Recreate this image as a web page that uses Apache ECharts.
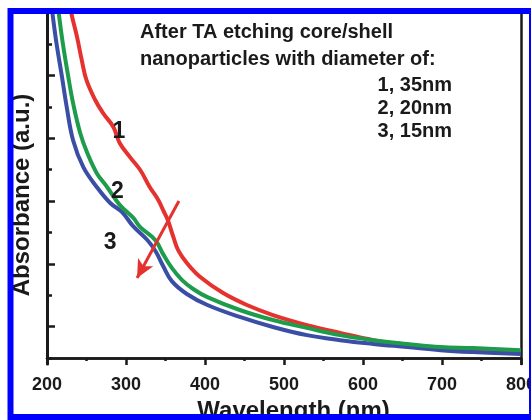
<!DOCTYPE html>
<html>
<head>
<meta charset="utf-8">
<script src="https://cdn.jsdelivr.net/npm/echarts@6/dist/echarts.min.js"></script>
<style>
html,body{margin:0;padding:0;background:#fff;}
#c{width:531px;height:420px;}
</style>
</head>
<body>
<div id="c"></div>
<script>
// Tick labels
var xTicks = [200, 300, 400, 500, 600, 700, 800];
var yMajorTicks = [1, 3, 5, 7, 9];
var yMinorTicks = [0, 2, 4, 6, 8, 10];

// Curve 1 (35 nm, red)
var redWl  = [223,231,238,244,250,261,271,284,292,305,318,330,341,347,353,360,366,377,394,423,453,486,529,571,613,656,698,739,800];
var redAbs = [12.0,10.96,10.23,9.49,8.85,8.22,7.80,7.36,6.85,6.40,5.99,5.45,5.03,4.71,4.39,3.85,3.44,3.03,2.58,2.07,1.69,1.37,1.05,0.80,0.57,0.41,0.32,0.22,0.16];

// Curve 2 (20 nm, green)
var greenWl  = [210,215,220,227,233,242,251,263,276,292,309,318,337,347,358,371,385,403,444,486,529,571,613,656,698,739,800];
var greenAbs = [11.95,10.96,10.03,8.95,8.12,7.17,6.53,5.89,5.45,4.88,4.47,4.17,3.76,3.31,2.87,2.48,2.20,1.94,1.53,1.21,0.96,0.73,0.57,0.45,0.35,0.32,0.25];

// Curve 3 (15 nm, blue)
var blueWl  = [202,207,212,219,225,233,246,263,280,295,309,327,338,347,358,377,403,444,486,529,571,613,656,698,739,800];
var blueAbs = [11.95,10.96,10.03,8.95,7.99,6.94,6.08,5.45,4.94,4.65,4.20,3.76,3.38,2.93,2.45,2.04,1.69,1.31,0.99,0.73,0.57,0.45,0.35,0.25,0.19,0.13];

// Curve number labels
var curveLabels = ['1', '2', '3'];
var labelWl  = [291, 289, 280];
var labelAbs = [7.20, 5.29, 3.69];

// Arrow (from, to) in data units
var arrowWl  = [367, 314];
var arrowAbs = [5.0, 2.55];

var annotation = ['After TA etching core/shell', 'nanoparticles with diameter of:', '1, 35nm', '2, 20nm', '3, 15nm'];

function pairs(xs, ys){ return xs.map(function(x,i){ return [x, ys[i]]; }); }

var RED = '#e5322f', GREEN = '#1d9c4c', BLUE = '#3a4ea6', INK = '#1a1a1a';
var FONT = 'Liberation Sans, Arial, sans-serif';
var yMin = -0.19, yMax = 10.96;

function ttl(t, pos){
  var g = {text: t, padding: 0, itemGap: 0,
    textStyle: {color: INK, fontSize: 20, fontWeight: 'bold', fontFamily: FONT}};
  for (var k in pos) g[k] = pos[k];
  return g;
}

var chart = echarts.init(document.getElementById('c'), null, {renderer:'canvas'});
chart.setOption({
  animation: false,
  backgroundColor: '#fff',
  title: [
    ttl(annotation[0], {left: 140, top: 22}),
    ttl(annotation[1], {left: 140, top: 49}),
    ttl(annotation[2], {right: 79, top: 75}),
    ttl(annotation[3], {right: 79, top: 98}),
    ttl(annotation[4], {right: 79, top: 121})
  ],
  grid: {left: 47, right: 10, top: 14, bottom: 56, containLabel: false, outerBoundsMode: 'none'},
  xAxis: [{
    type: 'value', min: xTicks[0], max: xTicks[xTicks.length-1], interval: 100,
    axisLine: {show: true, lineStyle: {color: INK, width: 2.5}},
    axisTick: {show: true, inside: false, length: 7, lineStyle: {color: INK, width: 2.5}},
    minorTick: {show: true, splitNumber: 2, length: 3, lineStyle: {color: INK, width: 2.5}},
    splitLine: {show: false},
    axisLabel: {show: true, margin: 12, color: INK, fontSize: 18, fontWeight: 'bold', fontFamily: FONT, hideOverlap: false},
    name: 'Wavelength (nm)', nameLocation: 'middle', nameGap: 32,
    nameTextStyle: {color: INK, fontSize: 24, fontWeight: 'bold', fontFamily: FONT, padding: [0,0,0,19]}
  }, {
    type: 'value', position: 'top', min: xTicks[0], max: xTicks[xTicks.length-1],
    axisLine: {show: true, lineStyle: {color: INK, width: 2.5}},
    axisTick: {show: false}, axisLabel: {show: false}, splitLine: {show: false}
  }],
  yAxis: [{
    type: 'value', min: yMin, max: yMax, position: 'left',
    axisLine: {show: true, lineStyle: {color: INK, width: 3}},
    axisTick: {show: true, inside: true, length: 8, customValues: yMajorTicks, lineStyle: {color: INK, width: 2.5}},
    axisLabel: {show: false}, splitLine: {show: false},
    name: 'Absorbance (a.u.)', nameLocation: 'middle', nameGap: 13,
    nameTextStyle: {color: INK, fontSize: 24, fontWeight: 'bold', fontFamily: FONT, padding: [0,12,0,0]}
  }, {
    type: 'value', min: yMin, max: yMax, position: 'left',
    axisLine: {show: false},
    axisTick: {show: true, inside: true, length: 5, customValues: yMinorTicks, lineStyle: {color: INK, width: 2.5}},
    axisLabel: {show: false}, splitLine: {show: false}
  }, {
    type: 'value', min: yMin, max: yMax, position: 'right',
    axisLine: {show: true, lineStyle: {color: INK, width: 2.5}},
    axisTick: {show: false}, axisLabel: {show: false}, splitLine: {show: false}
  }],
  series: [{
    name: '1', type: 'line', data: pairs(redWl, redAbs), smooth: 0.4, showSymbol: false, symbol: 'none',
    lineStyle: {color: RED, width: 4}, z: 2,
    markLine: {
      silent: true, symbol: ['none', 'arrow'], symbolSize: [13, 18], animation: false,
      label: {show: false},
      lineStyle: {color: RED, width: 3, type: 'solid'},
      emphasis: {disabled: true},
      data: [[{coord: [arrowWl[0], arrowAbs[0]]}, {coord: [arrowWl[1], arrowAbs[1]]}]]
    }
  }, {
    name: '3', type: 'line', data: pairs(blueWl, blueAbs), smooth: 0.4, showSymbol: false, symbol: 'none',
    lineStyle: {color: BLUE, width: 4}, z: 3
  }, {
    name: '2', type: 'line', data: pairs(greenWl, greenAbs), smooth: 0.4, showSymbol: false, symbol: 'none',
    lineStyle: {color: GREEN, width: 4}, z: 4,
    markPoint: {
      silent: true, symbol: 'rect', symbolSize: 1, itemStyle: {color: 'rgba(0,0,0,0)'},
      label: {show: true, position: 'inside', color: INK, fontSize: 23, fontWeight: 'bold', fontFamily: FONT,
        formatter: function(p){ return p.name; }},
      data: curveLabels.map(function(t,i){ return {name: t, coord: [labelWl[i], labelAbs[i]]}; })
    }
  }],
  graphic: [
    {type: 'rect', z: 100, silent: true, shape: {x: 10.5, y: 11, width: 521.5, height: 406},
     style: {fill: 'none', stroke: '#0000ff', lineWidth: 6}}
  ]
});
</script>
</body>
</html>
